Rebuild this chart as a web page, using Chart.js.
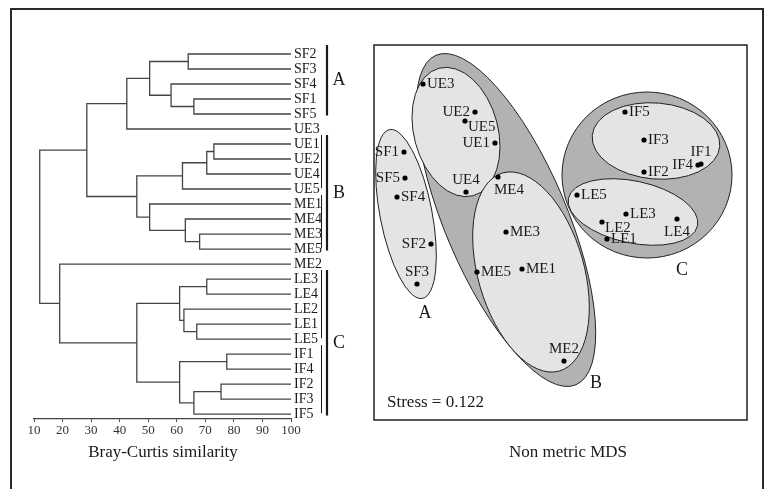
<!DOCTYPE html>
<html>
<head>
<meta charset="utf-8">
<script src="https://cdn.jsdelivr.net/npm/chart.js@4.4.1/dist/chart.umd.min.js"></script>
<style>
  html, body { margin: 0; padding: 0; background: #fff; }
  #wrap { position: relative; width: 768px; height: 489px; overflow: hidden; background: #fff; }
  #frame { position: absolute; left: 10px; top: 8px; width: 750px; height: 520px; border: 2px solid #2a2a2a; }
  canvas { position: absolute; top: 0; }
  #dendro { left: 0; }
  #mds { left: 368px; }
  .caption { position: absolute; top: 442px; font: 17px "Liberation Serif", serif; color: #1a1a1a; white-space: nowrap; transform: translateX(-50%); }
</style>
</head>
<body>
<div id="wrap">
  <div id="frame"></div>
  <canvas id="dendro" width="380" height="489"></canvas>
  <canvas id="mds" width="400" height="489"></canvas>
  <div class="caption" style="left:163px">Bray-Curtis similarity</div>
  <div class="caption" style="left:568px">Non metric MDS</div>
</div>
<script>
// --- DENDROGRAM DATA ---
const leaves = ['SF2','SF3','SF4','SF1','SF5','UE3','UE1','UE2','UE4','UE5','ME1','ME4','ME3','ME5','ME2',
                'LE3','LE4','LE2','LE1','LE5','IF1','IF4','IF2','IF3','IF5'];
// joins in order; "mK" is the node made by join K
const joinLeft  = ['SF2','SF1','SF4','m0','m3','UE1','m5','m6','ME3','ME4','ME1','m7','m4',
                   'LE3','LE1','LE2','m13','IF1','IF2','m18','m17','m16','ME2','m12'];
const joinRight = ['SF3','SF5','m1','m2','UE3','UE2','UE4','UE5','ME5','m8','m9','m10','m11',
                   'LE4','LE5','m14','m15','IF4','IF3','IF5','m19','m20','m21','m22'];
const joinSim   = [64, 66, 58, 50.5, 42.5, 73, 70.5, 62, 68, 63, 50.5, 46, 28.5,
                   70.5, 67, 62.5, 61, 77.5, 75.5, 66, 61, 46, 19, 12];
const simTicks = [10, 20, 30, 40, 50, 60, 70, 80, 90, 100];

// bracket groups beside the leaves
const mainGroups = [['A','SF2','SF5'], ['B','UE1','ME5'], ['C','LE3','IF5']];
const subGroups  = [['UE1','UE5'], ['ME1','ME5'], ['LE3','LE5'], ['IF1','IF5']];

// --- MDS DATA ---
const mdsLabels = ['SF1','SF2','SF3','SF4','SF5','UE1','UE2','UE3','UE4','UE5','ME1','ME2','ME3','ME4','ME5',
                   'LE1','LE2','LE3','LE4','LE5','IF1','IF2','IF3','IF4','IF5'];
const mdsX = [-1.56,-1.29,-1.43,-1.63,-1.55, -0.65,-0.85,-1.37,-0.94,-0.95, -0.38,0.04,-0.54,-0.62,-0.83,
              0.47,0.42,0.66,1.17,0.17, 1.41,0.84,0.84,1.38,0.65];
const mdsY = [0.80,-0.12,-0.52,0.35,0.54, 0.89,1.20,1.48,0.40,1.11, -0.37,-1.29,0.00,0.55,-0.40,
              -0.07,0.10,0.18,0.13,0.37, 0.68,0.60,0.92,0.67,1.20];
const stressValue = 0.122;

// --- STYLE ---
Chart.defaults.font.family = '"Liberation Serif", "Times New Roman", serif';
Chart.defaults.color = '#1a1a1a';
Chart.defaults.animation = false;
const DARK_FILL = '#b2b2b2';
const LIGHT_FILL = '#e4e4e4';
const INK = '#1a1a1a';

// where each point's name sits: [dx, dy, align]
const labelOffsets = { l: [-5, 0, 'right'], r: [4, 0, 'left'], t: [0, -12, 'center'], b: [0, 13, 'center'],
                       br: [3, 6, 'left'], bl: [-4, 13, 'left'] };
const labelSide = { SF1:'l', SF2:'l', SF3:'t', SF4:'r', SF5:'l', UE1:'l', UE2:'l', UE3:'r', UE4:'t', UE5:'br',
                    ME1:'r', ME2:'t', ME3:'r', ME4:'bl', ME5:'r', LE1:'r', LE2:'br', LE3:'r', LE4:'b', LE5:'r',
                    IF1:'t', IF2:'r', IF3:'r', IF4:'l', IF5:'r' };

// cluster outlines in MDS units (rot in degrees, clockwise on screen)
const hulls = [
  { cx: -0.54, cy: 0.12, rx: 0.61, ry: 1.79, rot: -23, fill: DARK_FILL },  // B
  { cx: 0.87, cy: 0.57, rx: 0.85, ry: 0.83, rot: 0, fill: DARK_FILL },      // C
  { cx: -1.54, cy: 0.18, rx: 0.26, ry: 0.86, rot: -11, fill: LIGHT_FILL },  // SF
  { cx: -1.04, cy: 1.00, rx: 0.42, ry: 0.66, rot: -15, fill: LIGHT_FILL },  // UE
  { cx: -0.29, cy: -0.40, rx: 0.53, ry: 1.03, rot: -16, fill: LIGHT_FILL }, // ME
  { cx: 0.96, cy: 0.91, rx: 0.64, ry: 0.38, rot: 5, fill: LIGHT_FILL },     // IF
  { cx: 0.73, cy: 0.20, rx: 0.66, ry: 0.31, rot: 12, fill: LIGHT_FILL }     // LE
];
const hullNames = [['A', -1.35, -0.81], ['B', 0.36, -1.51], ['C', 1.22, -0.38]];

// --- BUILD DENDROGRAM PATHS ---
const nodeY = {}, nodeX = {};
leaves.forEach((n, i) => { nodeY[n] = i; nodeX[n] = 100; });
const treePts = [];
joinSim.forEach((s, k) => {
  const a = joinLeft[k], b = joinRight[k];
  treePts.push({ x: nodeX[a], y: nodeY[a] }, { x: s, y: nodeY[a] },
               { x: s, y: nodeY[b] }, { x: nodeX[b], y: nodeY[b] }, { x: null, y: null });
  nodeY['m' + k] = (nodeY[a] + nodeY[b]) / 2;
  nodeX['m' + k] = s;
});

const groupBars = {
  id: 'groupBars',
  afterDraw(chart) {
    const { ctx, chartArea, scales: { y } } = chart;
    const at = n => leaves.indexOf(n);
    ctx.save();
    ctx.strokeStyle = INK;
    ctx.lineWidth = 1;
    subGroups.forEach(([from, to]) => {
      ctx.beginPath();
      ctx.moveTo(chartArea.right + 30.5, y.getPixelForValue(at(from) - 0.6));
      ctx.lineTo(chartArea.right + 30.5, y.getPixelForValue(at(to) - 0.05));
      ctx.stroke();
    });
    ctx.lineWidth = 2.2;
    ctx.font = '18px "Liberation Serif", serif';
    ctx.fillStyle = INK;
    ctx.textAlign = 'center';
    ctx.textBaseline = 'middle';
    mainGroups.forEach(([name, from, to]) => {
      const top = y.getPixelForValue(at(from) - 0.6), bottom = y.getPixelForValue(at(to) + 0.1);
      ctx.beginPath();
      ctx.moveTo(chartArea.right + 36, top);
      ctx.lineTo(chartArea.right + 36, bottom);
      ctx.stroke();
      ctx.fillText(name, chartArea.right + 48, (top + bottom) / 2);
    });
    ctx.restore();
  }
};

new Chart(document.getElementById('dendro'), {
  type: 'line',
  data: { datasets: [{ data: treePts, borderColor: '#444', borderWidth: 1.3, pointRadius: 0, spanGaps: false, tension: 0, fill: false }] },
  options: {
    responsive: false,
    layout: { padding: { left: 34, top: 39, right: 9, bottom: 46 } },
    plugins: { legend: { display: false }, tooltip: { enabled: false } },
    scales: {
      x: {
        type: 'linear', min: 10, max: 100, position: 'bottom',
        afterFit: s => { s.height = 24; },
        afterBuildTicks: s => { s.ticks = simTicks.map(v => ({ value: v })); },
        ticks: { font: { size: 13 }, padding: 1, maxRotation: 0, color: '#333' },
        grid: { drawOnChartArea: false, drawTicks: true, tickLength: 3, color: '#444' },
        border: { color: '#444', width: 1.3 }
      },
      y: {
        type: 'linear', reverse: true, min: -1, max: 24.33, position: 'right',
        afterFit: s => { s.width = 80; },
        afterBuildTicks: s => { s.ticks = leaves.map((n, i) => ({ value: i })); },
        ticks: { callback: v => leaves[v], font: { size: 14 }, padding: 3, color: INK, autoSkip: false },
        grid: { display: false, drawTicks: false },
        border: { display: false }
      }
    }
  },
  plugins: [groupBars]
});

// --- MDS PLUGINS ---
const hullPlugin = {
  id: 'hulls',
  beforeDatasetsDraw(chart) {
    const { ctx, scales: { x, y } } = chart;
    ctx.save();
    hulls.forEach(h => {
      const px = x.getPixelForValue(h.cx), py = y.getPixelForValue(h.cy);
      const rx = Math.abs(x.getPixelForValue(h.cx + h.rx) - px);
      const ry = Math.abs(y.getPixelForValue(h.cy + h.ry) - py);
      ctx.beginPath();
      ctx.ellipse(px, py, rx, ry, h.rot * Math.PI / 180, 0, Math.PI * 2);
      ctx.fillStyle = h.fill;
      ctx.fill();
      ctx.strokeStyle = '#222';
      ctx.lineWidth = 1;
      ctx.stroke();
    });
    ctx.restore();
  },
  afterDraw(chart) {
    const { ctx, chartArea: ca, scales: { x, y } } = chart;
    ctx.save();
    ctx.strokeStyle = '#222';
    ctx.lineWidth = 1.5;
    ctx.strokeRect(ca.left, ca.top, ca.right - ca.left, ca.bottom - ca.top);
    ctx.fillStyle = INK;
    ctx.textBaseline = 'middle';
    ctx.textAlign = 'center';
    ctx.font = '18px "Liberation Serif", serif';
    hullNames.forEach(([t, hx, hy]) => ctx.fillText(t, x.getPixelForValue(hx), y.getPixelForValue(hy)));
    ctx.textAlign = 'left';
    ctx.font = '17px "Liberation Serif", serif';
    ctx.fillText('Stress = ' + stressValue.toFixed(3), x.getPixelForValue(-1.73), y.getPixelForValue(-1.71));
    ctx.restore();
  }
};

const pointLabels = {
  id: 'pointLabels',
  afterDatasetsDraw(chart) {
    const { ctx } = chart;
    const meta = chart.getDatasetMeta(0);
    ctx.save();
    ctx.font = '15px "Liberation Serif", serif';
    ctx.fillStyle = INK;
    ctx.textBaseline = 'middle';
    meta.data.forEach((pt, i) => {
      const name = mdsLabels[i];
      const [dx, dy, align] = labelOffsets[labelSide[name]];
      ctx.textAlign = align;
      ctx.fillText(name, pt.x + dx, pt.y + dy);
    });
    ctx.restore();
  }
};

new Chart(document.getElementById('mds'), {
  type: 'scatter',
  data: {
    datasets: [{
      data: mdsLabels.map((n, i) => ({ x: mdsX[i], y: mdsY[i] })),
      pointRadius: 2.6, backgroundColor: '#000', borderWidth: 0
    }]
  },
  options: {
    responsive: false,
    layout: { padding: { left: 6, top: 45, right: 21, bottom: 69 } },
    plugins: { legend: { display: false }, tooltip: { enabled: false } },
    scales: {
      x: { type: 'linear', min: -1.86, max: 1.87, display: false },
      y: { type: 'linear', min: -1.88, max: 1.87, display: false }
    }
  },
  plugins: [hullPlugin, pointLabels]
});
</script>
</body>
</html>
